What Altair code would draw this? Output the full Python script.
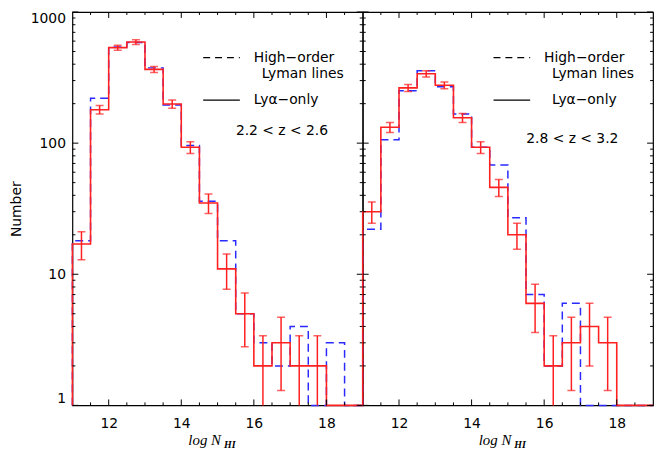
import altair as alt
import pandas as pd

# ---------------- data ----------------
bin_left = [11.0, 11.5, 12.0, 12.5, 13.0, 13.5, 14.0, 14.5,
            15.0, 15.5, 16.0, 16.5, 17.0, 17.5, 18.0, 18.5]
bin_width = 0.5
x_end = 19.0

# panel 1 : 2.2 < z < 2.6
p1_lya = [17, 180, 535, 590, 365, 199, 93, 35, 11, 5, 2, 3, 2, 2, 0, 0]
p1_ho = [18, 220, 540, 585, 375, 195, 96, 36, 18, 5, 3, 2, 4, 0, 3, 0]
p1_err = [4.1, 13.4, 23.1, 24.3, 19.1, 14.1, 9.6, 5.9, 3.3, 2.2, 1.4, 1.7, 1.4, 1.4, 0, 0]

# panel 2 : 2.8 < z < 3.2
p2_lya = [30, 132, 264, 338, 276, 156, 93, 46, 20, 6, 2, 3, 4, 3, 0, 0]
p2_ho = [22, 106, 251, 357, 269, 167, 93, 68, 27, 7, 2, 6, 0, 0, 0, 0]
p2_err = [5.5, 11.5, 16.2, 18.4, 16.6, 12.5, 9.6, 6.8, 4.5, 2.4, 1.4, 1.7, 2.0, 1.7, 0, 0]

z_labels = ["2.2 < z < 2.6", "2.8 < z < 3.2"]
legend_texts = ["High\u2212order", "Lyman lines", "Ly\u03b1\u2212only"]
x_title = ["log", "N", "HI"]
y_title = "Number"

x_label_values = [12, 14, 16, 18]
x_minor_values = [11.5, 12.5, 13.0, 13.5, 14.5, 15.0, 15.5, 16.5, 17.0, 17.5, 18.5]
y_label_values = [1, 10, 100, 1000]
y_minor_values = [2, 3, 4, 5, 6, 7, 8, 9, 20, 30, 40, 50, 60, 70, 80, 90,
                  200, 300, 400, 500, 600, 700, 800, 900]

# ---------------- style ----------------
W, H = 293, 397
RED = "#ff2020"
BLUE = "#2a2aff"
FONT = "DejaVu Sans"
SERIF = "Liberation Serif"

xscale = alt.Scale(domain=[11, x_end], nice=False, zero=False)
yscale = alt.Scale(type="log", domain=[1, 1000], nice=False)


def step_frame(vals):
    xs = [bin_left[0]] + bin_left + [x_end]
    ys = [1] + [max(v, 1) for v in vals] + [max(vals[-1], 1)]
    return pd.DataFrame({"x": xs, "n": ys, "order": list(range(len(xs)))})


def err_frame(vals, err):
    rows = []
    for xl, v, e in zip(bin_left, vals, err):
        if v > 0:
            rows.append({"xc": xl + bin_width / 2, "hi": v + e, "lo": max(v - e, 0.5)})
    return pd.DataFrame(rows)


def one_row(**kw):
    return pd.DataFrame({k: [v] for k, v in kw.items()})


def panel(lya, ho, err, zlab, lya_x, zlab_y, first):
    if first:
        yaxis = alt.Axis(values=y_label_values, format="d", ticks=False, domain=False,
                         grid=False, tickSize=0, labelPadding=7, labelFlush=True,
                         labelFontSize=14, labelColor="black", labelFont=FONT,
                         title=y_title, titleFontSize=14, titleFontWeight="normal",
                         titleFont=FONT, titleColor="black", titlePadding=7)
    else:
        yaxis = alt.Axis(values=y_label_values, ticks=False, domain=False, grid=False,
                         labels=False, title=None, tickSize=0)
    xaxis = alt.Axis(values=x_label_values, format="d", ticks=False, domain=False,
                     grid=False, tickSize=0, labelPadding=11, labelFontSize=14,
                     labelColor="black", labelFont=FONT, title=None)
    X = lambda f: alt.X(f, scale=xscale, axis=xaxis)
    Y = lambda f: alt.Y(f, scale=yscale, axis=yaxis)

    ho_line = alt.Chart(step_frame(ho)).mark_line(
        interpolate="step-after", color=BLUE, strokeDash=[8, 5], strokeWidth=1.5
    ).encode(x=X("x:Q"), y=Y("n:Q"), order="order:Q")
    lya_line = alt.Chart(step_frame(lya)).mark_line(
        interpolate="step-after", color=RED, strokeWidth=1.6
    ).encode(x=X("x:Q"), y=Y("n:Q"), order="order:Q")
    edf = err_frame(lya, err)
    ebar = alt.Chart(edf).mark_rule(color=RED, strokeWidth=1.5, clip=True).encode(
        x=X("xc:Q"), y=Y("lo:Q"), y2="hi:Q")
    cap_hi = alt.Chart(edf).mark_tick(color=RED, orient="horizontal", size=8,
                                      thickness=1.5, clip=True).encode(
        x=X("xc:Q"), y=Y("hi:Q"))
    cap_lo = alt.Chart(edf).mark_tick(color=RED, orient="horizontal", size=8,
                                      thickness=1.5, clip=True).encode(
        x=X("xc:Q"), y=Y("lo:Q"))

    # inward ticks drawn as rules
    ymaj = pd.DataFrame({"v": y_label_values})
    ymin = pd.DataFrame({"v": y_minor_values})
    xmaj = pd.DataFrame({"v": x_label_values})
    xmin = pd.DataFrame({"v": x_minor_values})
    tick_layers = []
    for df, L in [(ymaj, 6), (ymin, 3)]:
        for x0, x1 in [(0, L), (W - L, W)]:
            tick_layers.append(
                alt.Chart(df).mark_rule(color="black", strokeWidth=1).encode(
                    y=Y("v:Q"), x=alt.value(x0), x2=alt.value(x1)))
    for df, L in [(xmaj, 6), (xmin, 3)]:
        for y0, y1 in [(H - L, H), (0, L)]:
            tick_layers.append(
                alt.Chart(df).mark_rule(color="black", strokeWidth=1).encode(
                    x=X("v:Q"), y=alt.value(y0), y2=alt.value(y1)))

    # legend
    leg = []
    leg.append(alt.Chart(one_row(a=0)).mark_rule(color="black", strokeDash=[7, 5], strokeWidth=1.2)
               .encode(x=alt.value(132), x2=alt.value(169), y=alt.value(46)))
    leg.append(alt.Chart(one_row(a=0)).mark_rule(color="black", strokeWidth=1.2)
               .encode(x=alt.value(132), x2=alt.value(169), y=alt.value(89)))
    for txt, tx, ty in [(legend_texts[0], 183, 46), (legend_texts[1], 191, 63),
                        (legend_texts[2], lya_x, 89), (zlab, 165, zlab_y)]:
        leg.append(alt.Chart(one_row(t=txt)).mark_text(
            align="left", baseline="middle", font=FONT, fontSize=14, color="black")
            .encode(x=alt.value(tx), y=alt.value(ty), text="t:N"))

    # x title (log N_HI)
    ttl = [
        alt.Chart(one_row(t=x_title[0])).mark_text(
            align="left", baseline="alphabetic", font=SERIF, fontSize=15,
            fontStyle="italic", color="black")
        .encode(x=alt.value(117), y=alt.value(H + 40), text="t:N"),
        alt.Chart(one_row(t=x_title[1])).mark_text(
            align="left", baseline="alphabetic", font=SERIF, fontSize=15,
            fontStyle="italic", color="black")
        .encode(x=alt.value(140), y=alt.value(H + 40), text="t:N"),
        alt.Chart(one_row(t=x_title[2])).mark_text(
            align="left", baseline="alphabetic", font=SERIF, fontSize=10,
            fontStyle="italic", fontWeight="bold", color="black")
        .encode(x=alt.value(153), y=alt.value(H + 43), text="t:N"),
    ]

    return alt.layer(ho_line, lya_line, ebar, cap_hi, cap_lo, *tick_layers, *leg, *ttl).properties(
        width=W, height=H)


left = panel(p1_lya, p1_ho, p1_err, z_labels[0], 183, 120, True)
right = panel(p2_lya, p2_ho, p2_err, z_labels[1], 191, 128, False)

chart = alt.hconcat(left, right, spacing=0, bounds="flush", padding=0).configure(
    font=FONT, background="white"
).configure_view(stroke="black", strokeWidth=1.2)

chart.save("out.html", embed_options={"renderer": "svg", "actions": False})
